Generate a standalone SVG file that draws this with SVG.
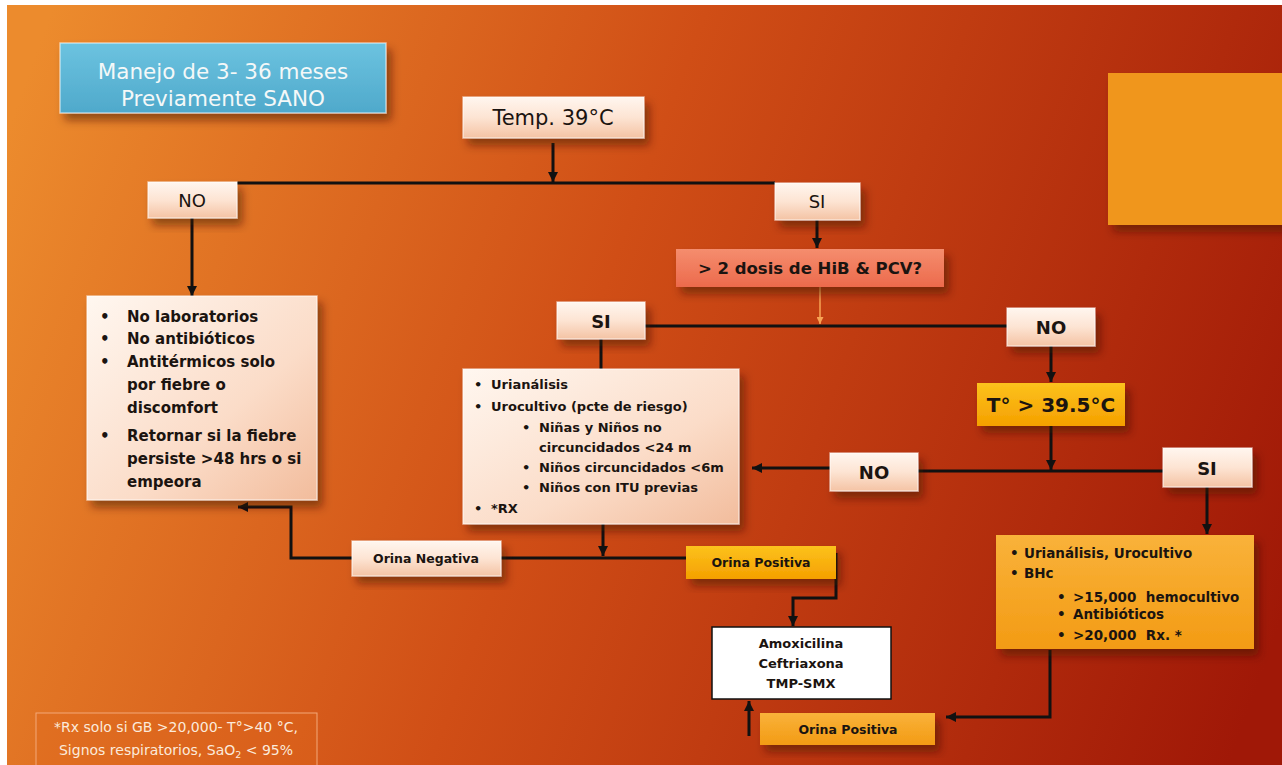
<svg xmlns="http://www.w3.org/2000/svg" width="1282" height="765" viewBox="0 0 1282 765">
<defs>
<linearGradient id="bg" gradientUnits="userSpaceOnUse" x1="0" y1="150" x2="1282" y2="620">
<stop offset="0" stop-color="#ec8b2d"/>
<stop offset="0.45" stop-color="#d04e16"/>
<stop offset="1" stop-color="#a01807"/>
</linearGradient>
<linearGradient id="peach" x1="0" y1="0" x2="0" y2="1">
<stop offset="0" stop-color="#fff6ef"/>
<stop offset="0.5" stop-color="#fde4d3"/>
<stop offset="1" stop-color="#f4c3a4"/>
</linearGradient>
<linearGradient id="peachBig" x1="0" y1="0" x2="1" y2="1">
<stop offset="0" stop-color="#fff7f0"/>
<stop offset="0.6" stop-color="#fbdcc8"/>
<stop offset="1" stop-color="#f2bc9c"/>
</linearGradient>
<linearGradient id="salmon" x1="0" y1="0" x2="0" y2="1">
<stop offset="0" stop-color="#f58d6e"/>
<stop offset="1" stop-color="#ec6a4c"/>
</linearGradient>
<linearGradient id="gold" x1="0" y1="0" x2="0" y2="1">
<stop offset="0" stop-color="#fcc21c"/>
<stop offset="1" stop-color="#f5a000"/>
</linearGradient>
<linearGradient id="amber" x1="0" y1="0" x2="0" y2="1">
<stop offset="0" stop-color="#f9b23a"/>
<stop offset="1" stop-color="#f39b14"/>
</linearGradient>
<linearGradient id="blue" x1="0" y1="0" x2="0" y2="1">
<stop offset="0" stop-color="#6cc3e0"/>
<stop offset="1" stop-color="#4fa9cb"/>
</linearGradient>
<filter id="sh" x="-20%" y="-20%" width="150%" height="160%">
<feDropShadow dx="5" dy="7" stdDeviation="4" flood-color="#3a0800" flood-opacity="0.5"/>
</filter>
<marker id="arr" viewBox="0 0 10 10" refX="10" refY="5" markerWidth="10" markerHeight="10" markerUnits="userSpaceOnUse" orient="auto">
<path d="M0,0 L10,5 L0,10 z" fill="#111"/>
</marker>
<marker id="arrO" viewBox="0 0 10 10" refX="10" refY="5" markerWidth="7" markerHeight="7" markerUnits="userSpaceOnUse" orient="auto">
<path d="M0,0 L10,5 L0,10 z" fill="#f7a455"/>
</marker>
<style>
.t{font-family:"DejaVu Sans","Liberation Sans",sans-serif;fill:#1b1410}
.b{font-weight:bold}
.c{text-anchor:middle}
.bev{stroke:#ffffff;stroke-opacity:0.55;stroke-width:1.5}
.ln{fill:none;stroke:#111;stroke-width:3}
.w{fill:#f4f8f8}
.f{fill:#fbeadb}
</style>
</defs>
<rect x="0" y="0" width="1282" height="765" fill="#ffffff"/>
<rect x="7" y="5" width="1275" height="760" fill="url(#bg)"/>

<g id="connectors">
<line class="ln" x1="553" y1="143" x2="553" y2="182" marker-end="url(#arr)"/>
<line class="ln" x1="237" y1="183" x2="775" y2="183"/>
<line class="ln" x1="192" y1="218" x2="192" y2="296" marker-end="url(#arr)"/>
<line class="ln" x1="817" y1="220" x2="817" y2="248" marker-end="url(#arr)"/>
<line x1="820" y1="287" x2="820" y2="324" stroke="#f7a455" stroke-width="1.5" marker-end="url(#arrO)"/>
<line class="ln" x1="645" y1="326" x2="1007" y2="326"/>
<line class="ln" x1="601" y1="339" x2="601" y2="369"/>
<line class="ln" x1="1051" y1="346" x2="1051" y2="382" marker-end="url(#arr)"/>
<line class="ln" x1="1051" y1="426" x2="1051" y2="470" marker-end="url(#arr)"/>
<line class="ln" x1="918" y1="471" x2="1163" y2="471"/>
<line class="ln" x1="830" y1="468" x2="752" y2="468" marker-end="url(#arr)"/>
<line class="ln" x1="1207" y1="487" x2="1207" y2="534" marker-end="url(#arr)"/>
<line class="ln" x1="603" y1="524" x2="603" y2="556" marker-end="url(#arr)"/>
<line class="ln" x1="501" y1="558" x2="686" y2="558"/>
<polyline class="ln" points="352,558 291,558 291,507 238,507" marker-end="url(#arr)"/>
<polyline class="ln" points="836,553 836,598 793,598 793,626" marker-end="url(#arr)"/>
<line class="ln" x1="749" y1="736" x2="749" y2="701" marker-end="url(#arr)"/>
<polyline class="ln" points="1050,650 1050,717 946,717" marker-end="url(#arr)"/>
</g>

<g id="title">
<rect x="60" y="43" width="326" height="70" fill="url(#blue)" class="bev" filter="url(#sh)"/>
<text class="t c w" x="223" y="79" font-size="21.5">Manejo de 3- 36 meses</text>
<text class="t c w" x="223" y="106" font-size="21.5">Previamente SANO</text>
</g>

<g id="orangeSquare">
<rect x="1108" y="73" width="180" height="152" fill="#f0961a" filter="url(#sh)"/>
</g>

<g id="temp">
<rect x="463" y="97" width="181" height="41" fill="url(#peach)" class="bev" filter="url(#sh)"/>
<text class="t c" x="553" y="125" font-size="21">Temp. 39°C</text>
</g>

<g id="no1">
<rect x="148" y="182" width="89" height="36" fill="url(#peach)" class="bev" filter="url(#sh)"/>
<text class="t c" x="192" y="207" font-size="18">NO</text>
</g>

<g id="si1">
<rect x="775" y="183" width="85" height="37" fill="url(#peach)" class="bev" filter="url(#sh)"/>
<text class="t c" x="817" y="208" font-size="18">SI</text>
</g>

<g id="noActions">
<rect x="87" y="296" width="230" height="204" fill="url(#peachBig)" class="bev" filter="url(#sh)"/>
<g class="t b" font-size="15">
<text x="100" y="322">•</text><text x="127" y="322">No laboratorios</text>
<text x="100" y="344">•</text><text x="127" y="344">No antibióticos</text>
<text x="100" y="367">•</text><text x="127" y="367">Antitérmicos solo</text>
<text x="127" y="390">por fiebre o</text>
<text x="127" y="413">discomfort</text>
<text x="100" y="441">•</text><text x="127" y="441">Retornar si la fiebre</text>
<text x="127" y="464">persiste &gt;48 hrs o si</text>
<text x="127" y="487">empeora</text>
</g>
</g>

<g id="vacunas">
<rect x="676" y="249" width="268" height="38" fill="url(#salmon)" filter="url(#sh)"/>
<text class="t b c" x="810" y="274" font-size="16.5">&gt; 2 dosis de HiB &amp; PCV?</text>
</g>

<g id="si2">
<rect x="557" y="302" width="88" height="37" fill="url(#peach)" class="bev" filter="url(#sh)"/>
<text class="t b c" x="601" y="328" font-size="18">SI</text>
</g>

<g id="no2">
<rect x="1007" y="308" width="88" height="38" fill="url(#peach)" class="bev" filter="url(#sh)"/>
<text class="t b c" x="1051" y="334" font-size="18">NO</text>
</g>

<g id="temp395">
<rect x="977" y="383" width="148" height="43" fill="url(#gold)" filter="url(#sh)"/>
<text class="t b c" x="1051" y="412" font-size="20">T° &gt; 39.5°C</text>
</g>

<g id="no3">
<rect x="830" y="453" width="88" height="38" fill="url(#peach)" class="bev" filter="url(#sh)"/>
<text class="t b c" x="874" y="479" font-size="18">NO</text>
</g>

<g id="si3">
<rect x="1163" y="448" width="89" height="39" fill="url(#peach)" class="bev" filter="url(#sh)"/>
<text class="t b c" x="1207" y="475" font-size="18">SI</text>
</g>

<g id="siActions">
<rect x="463" y="369" width="276" height="155" fill="url(#peachBig)" class="bev" filter="url(#sh)"/>
<g class="t b" font-size="13">
<text x="474" y="389">•</text><text x="491" y="389">Urianálisis</text>
<text x="474" y="411">•</text><text x="491" y="411">Urocultivo (pcte de riesgo)</text>
<text x="522" y="432">•</text><text x="539" y="432">Niñas y Niños no</text>
<text x="539" y="452">circuncidados &lt;24 m</text>
<text x="522" y="472">•</text><text x="539" y="472">Niños circuncidados &lt;6m</text>
<text x="522" y="492">•</text><text x="539" y="492">Niños con ITU previas</text>
<text x="474" y="513">•</text><text x="491" y="513">*RX</text>
</g>
</g>

<g id="orinaNegativa">
<rect x="352" y="541" width="149" height="35" fill="url(#peach)" class="bev" filter="url(#sh)"/>
<text class="t b c" x="426" y="563" font-size="12.5">Orina Negativa</text>
</g>

<g id="orinaPositiva1">
<rect x="686" y="546" width="150" height="33" fill="url(#gold)" filter="url(#sh)"/>
<text class="t b c" x="761" y="567" font-size="12.5">Orina Positiva</text>
</g>

<g id="antibioticos">
<rect x="712" y="627" width="179" height="72" fill="#ffffff" stroke="#111" stroke-width="1.5"/>
<g class="t b c" font-size="13">
<text x="801" y="648">Amoxicilina</text>
<text x="801" y="668">Ceftriaxona</text>
<text x="801" y="688">TMP-SMX</text>
</g>
</g>

<g id="bhcActions">
<rect x="996" y="535" width="258" height="114" fill="url(#amber)" filter="url(#sh)"/>
<g class="t b" font-size="13.5">
<text x="1010" y="558">•</text><text x="1024" y="558">Urianálisis, Urocultivo</text>
<text x="1010" y="578">•</text><text x="1024" y="578">BHc</text>
<text x="1057" y="602">•</text><text x="1073" y="602">&gt;15,000&#160; hemocultivo</text>
<text x="1057" y="619">•</text><text x="1073" y="619">Antibióticos</text>
<text x="1057" y="640">•</text><text x="1073" y="640">&gt;20,000&#160; Rx. *</text>
</g>
</g>

<g id="orinaPositiva2">
<rect x="760" y="713" width="175" height="32" fill="url(#amber)" filter="url(#sh)"/>
<text class="t b c" x="848" y="734" font-size="12.5">Orina Positiva</text>
</g>

<g id="footnote">
<rect x="36" y="713" width="281" height="56" fill="#e0661c" fill-opacity="0.35" stroke="#f3a878" stroke-width="1"/>
<text class="t c f" x="176" y="732" font-size="14">*Rx solo si GB &gt;20,000- T°&gt;40 °C,</text>
<text class="t c f" x="176" y="755" font-size="14">Signos respiratorios, SaO<tspan font-size="9.5" dy="3">2</tspan><tspan dy="-3"> &lt; 95%</tspan></text>
</g>
</svg>
